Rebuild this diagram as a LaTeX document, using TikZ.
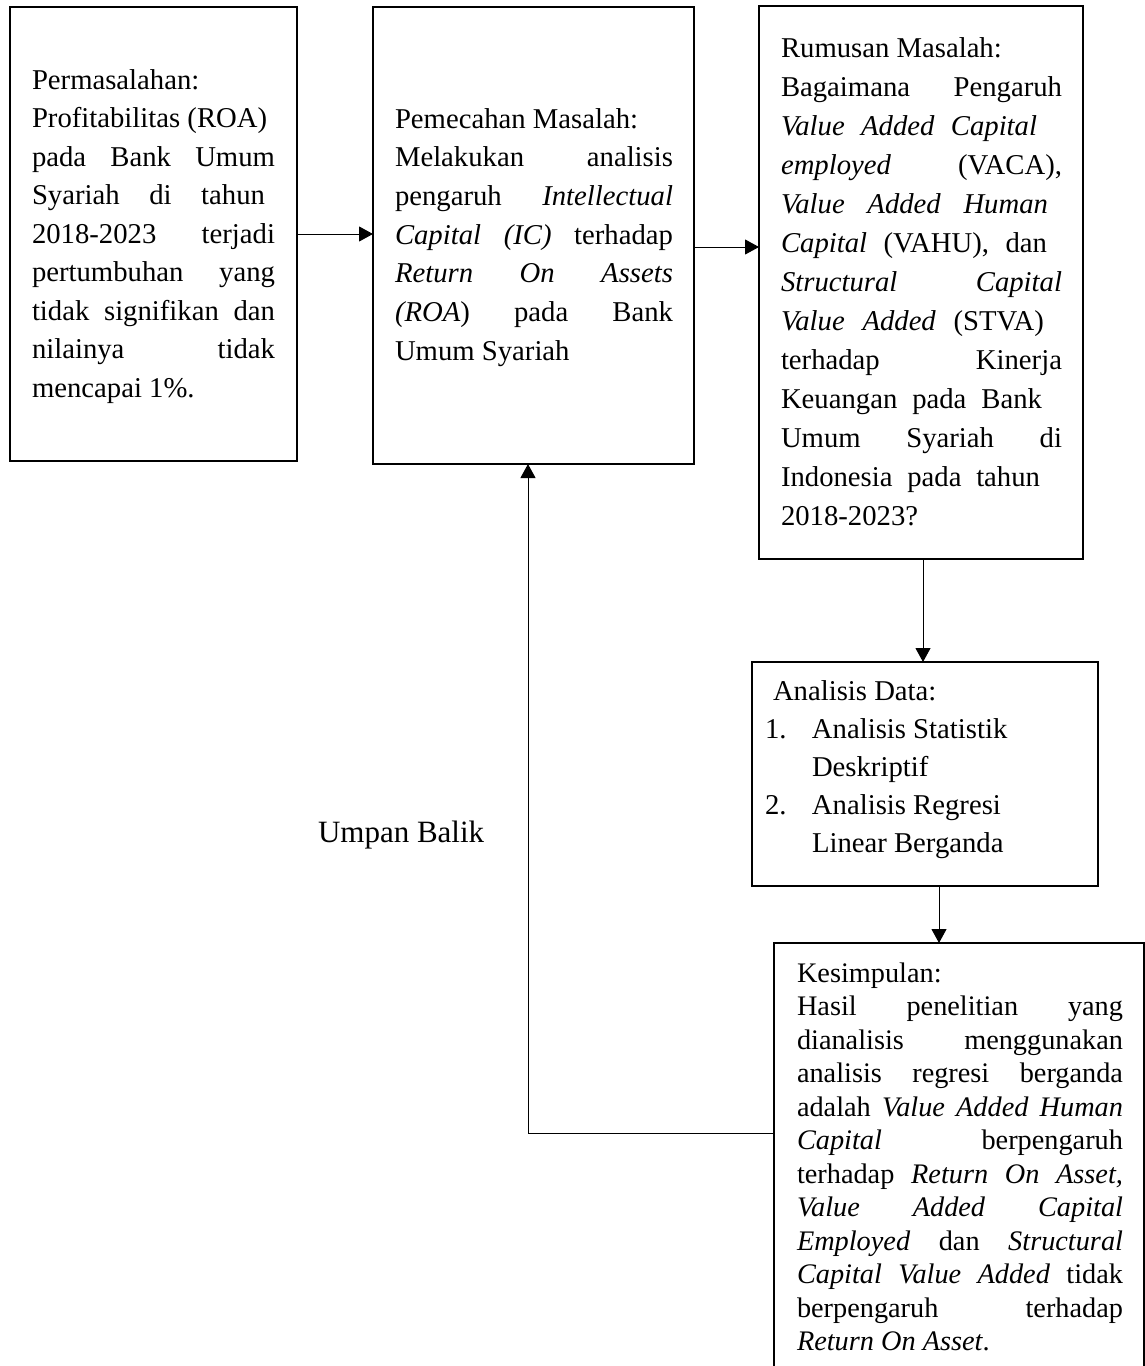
\documentclass[tikz,border=0pt]{standalone}
\usepackage{fontspec}
\setmainfont{Liberation Serif}
\usetikzlibrary{arrows.meta}
\newcommand\jl[1]{\makebox[\linewidth][s]{#1}\\}
\newcommand\wl[2]{\makebox[#1][s]{#2}\\}
\begin{document}
\begin{tikzpicture}[x=1pt,y=-1pt,
  box/.style={draw, rectangle, line width=1.6pt, fill=white, inner sep=0pt, outer sep=0pt},
  txt/.style={anchor=base west, inner sep=0pt, outer sep=0pt},
  conn/.style={line width=1pt, -{Triangle[length=14pt,width=15pt]}}]
\useasboundingbox (0,0) rectangle (1145,1366);
\fill[white] (0,0) rectangle (1145,1366);
\clip (0,0) rectangle (1145,1366);

% boxes
\node[box, minimum width=287pt, minimum height=454pt] (B1) at (153.5,234) {};
\node[box, minimum width=321pt, minimum height=457pt] (B2) at (533.5,235.5) {};
\node[box, minimum width=324pt, minimum height=553pt] (B3) at (921,282.5) {};
\node[box, minimum width=346pt, minimum height=224pt] (B4) at (925,774) {};
\node[box, minimum width=370pt, minimum height=457pt] (B5) at (959,1171.5) {};

% texts
\node[txt] (T1) at (32,89) {\parbox[t]{243pt}{\fontsize{28.7}{38.5}\selectfont
Permasalahan:\\
Profitabilitas (ROA)\\
\jl{pada Bank Umum}
\wl{233pt}{Syariah di tahun}
\jl{2018-2023 terjadi}
\jl{pertumbuhan yang}
\jl{tidak signifikan dan}
\jl{nilainya tidak}
mencapai 1\%.}};

\node[txt] (T2) at (395,128) {\parbox[t]{278pt}{\fontsize{28.7}{38.7}\selectfont
Pemecahan Masalah:\\
\jl{Melakukan analisis}
\jl{pengaruh \textit{Intellectual}}
\jl{\textit{Capital (IC)} terhadap}
\jl{\textit{Return On Assets}}
\jl{\textit{(ROA}) pada Bank}
Umum Syariah}};

\node[txt] (T3) at (781,57) {\parbox[t]{281pt}{\fontsize{28.7}{39}\selectfont
Rumusan Masalah:\\
\jl{Bagaimana Pengaruh}
\wl{256pt}{\textit{Value Added Capital}}
\jl{\textit{employed} (VACA),}
\wl{267pt}{\textit{Value Added Human}}
\wl{266pt}{\textit{Capital} (VAHU), dan}
\jl{\textit{Structural Capital}}
\wl{263pt}{\textit{Value Added} (STVA)}
\jl{terhadap Kinerja}
\wl{261pt}{Keuangan pada Bank}
\jl{Umum Syariah di}
\wl{259pt}{Indonesia pada tahun}
2018-2023?}};

\node[txt] (T4) at (765,700) {\parbox[t]{320pt}{\fontsize{28.7}{38}\selectfont
\hspace*{8pt}Analisis Data:\\
\makebox[47pt][l]{1.}Analisis Statistik\\
\hspace*{47pt}Deskriptif\\
\makebox[47pt][l]{2.}Analisis Regresi\\
\hspace*{47pt}Linear Berganda}};

\node[txt] (T5) at (797,982) {\parbox[t]{326pt}{\fontsize{28.3}{33.5}\selectfont
Kesimpulan:\\
\jl{Hasil penelitian yang}
\jl{dianalisis menggunakan}
\jl{analisis regresi berganda}
\jl{adalah \textit{Value Added Human}}
\jl{\textit{Capital} berpengaruh}
\jl{terhadap \textit{Return On Asset,}}
\jl{\textit{Value Added Capital}}
\jl{\textit{Employed} dan \textit{Structural}}
\jl{\textit{Capital Value Added} tidak}
\jl{berpengaruh terhadap}
\textit{Return On Asset}.}};

\node[txt] (UB) at (318,842) {\fontsize{31}{36}\selectfont Umpan Balik};

% connectors
\draw[conn] (B1.east) -- (B1.east -| B2.west);
\draw[conn] ([yshift=-11.5pt]B2.east) -- ([yshift=-11.5pt]B2.east -| B3.west);
\draw[conn] ([xshift=2pt]B3.south) -- ([xshift=2pt]B3.south |- B4.north);
\draw[conn] ([xshift=14pt]B4.south) -- ([xshift=14pt]B4.south |- B5.north);
\coordinate (fb) at (528,1133);
\draw[conn] (B5.west |- fb) -- (fb) -- (fb |- B2.south);
\end{tikzpicture}
\end{document}
